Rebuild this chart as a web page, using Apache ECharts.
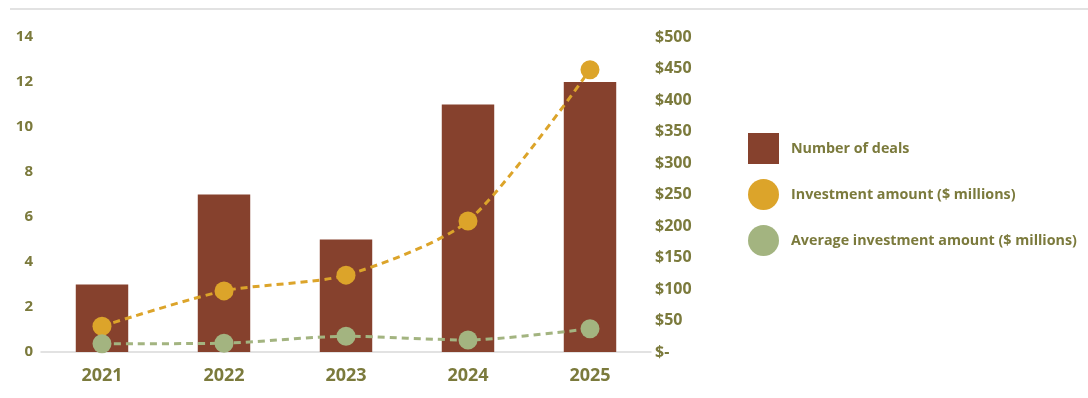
<!DOCTYPE html>
<html>
<head>
<meta charset="utf-8">
<script src="https://cdn.jsdelivr.net/npm/echarts@6/dist/echarts.min.js"></script>
<style>
  html, body { margin: 0; padding: 0; background: #fff; }
  #chart { width: 1088px; height: 398px; }
</style>
</head>
<body>
<div id="chart"></div>
<script>
// Deals and investment by year
const years = ['2021', '2022', '2023', '2024', '2025'];
const dealCounts = [3, 7, 5, 11, 12];
const investmentAmounts = [41, 97, 122, 208, 448];
const averageInvestment = [13, 14, 25, 19, 37];
const leftTicks = { min: 0, max: 14, interval: 2 };
const rightTicks = { min: 0, max: 500, interval: 50 };

const olive = '#7b7a3c';
const font = '"Open Sans"';

const chart = echarts.init(document.getElementById('chart'));
chart.setOption({
  animation: false,
  textStyle: { fontFamily: font },
  graphic: [{
    type: 'line',
    shape: { x1: 10, y1: 9, x2: 1088, y2: 9 },
    style: { stroke: '#e2e2e2', lineWidth: 2 }
  }],
  grid: { left: 41, right: 437, top: 37, bottom: 46 },
  legend: {
    orient: 'vertical',
    left: 743,
    top: 128,
    itemWidth: 31,
    itemHeight: 31,
    itemGap: 15,
    textStyle: { color: olive, fontWeight: 'bold', fontSize: 14.3, fontFamily: font, padding: [5, 0, 0, 7] },
    data: [
      { name: 'Number of deals', icon: 'rect' },
      { name: 'Investment amount ($ millions)', icon: 'circle' },
      { name: 'Average investment amount ($ millions)', icon: 'circle' }
    ]
  },
  xAxis: {
    type: 'category',
    data: years,
    axisLine: { lineStyle: { color: '#d9d9d9', width: 1.5 } },
    axisTick: { show: false },
    axisLabel: { color: olive, fontWeight: 'bold', fontSize: 18, margin: 15 }
  },
  yAxis: [{
    type: 'value',
    min: leftTicks.min, max: leftTicks.max, interval: leftTicks.interval,
    splitLine: { show: false },
    axisLine: { show: false },
    axisTick: { show: false },
    axisLabel: { color: olive, fontWeight: 'bold', fontSize: 15, margin: 8 }
  }, {
    type: 'value',
    position: 'right',
    min: rightTicks.min, max: rightTicks.max, interval: rightTicks.interval,
    splitLine: { show: false },
    axisLine: { show: false },
    axisTick: { show: false },
    axisLabel: {
      color: olive, fontWeight: 'bold', fontSize: 16, margin: 4,
      formatter: v => v === 0 ? '$-' : '$' + v
    }
  }],
  series: [{
    name: 'Number of deals',
    type: 'bar',
    data: dealCounts,
    barWidth: '43%',
    itemStyle: { color: '#86412d' }
  }, {
    name: 'Investment amount ($ millions)',
    type: 'line',
    yAxisIndex: 1,
    data: investmentAmounts,
    smooth: 0.25,
    symbol: 'circle',
    symbolSize: 19,
    itemStyle: { color: '#dca42a' },
    lineStyle: { color: '#dca42a', width: 3, type: [7, 5] }
  }, {
    name: 'Average investment amount ($ millions)',
    type: 'line',
    yAxisIndex: 1,
    data: averageInvestment,
    smooth: 0.25,
    symbol: 'circle',
    symbolSize: 19,
    itemStyle: { color: '#a3b480' },
    lineStyle: { color: '#a3b480', width: 3, type: [7, 5] }
  }]
});
</script>
</body>
</html>
